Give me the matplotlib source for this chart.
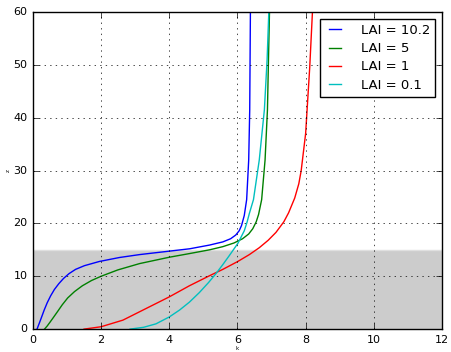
import matplotlib
matplotlib.use("Agg")
import matplotlib.pyplot as plt

# k(z) profiles for four leaf area indices
z_lai_10_2 = [0, 1.0, 2.2, 3.6, 5.0, 6.3, 7.5, 8.6, 9.6, 10.5, 11.3, 12.0, 12.8, 13.55,
              14.1, 14.75, 15.2, 15.9, 16.5, 17.1, 17.8, 18.6, 19.6, 21.5, 24.5, 32, 41.5, 60]
k_lai_10_2 = [0.12, 0.18, 0.25, 0.33, 0.42, 0.52, 0.63, 0.76, 0.90, 1.06, 1.25, 1.51, 1.95, 2.54,
              3.13, 4.0, 4.6, 5.18, 5.57, 5.80, 5.95, 6.05, 6.12, 6.20, 6.27, 6.33, 6.36, 6.38]

z_lai_5 = [0, 0.6, 1.3, 2.2, 3.3, 4.6, 5.9, 7.1, 8.2, 9.2, 10.0, 11.2, 12.4, 13.6, 14.3,
           15.0, 15.6, 16.3, 17.1, 18.0, 19.0, 20.3, 21.7, 24.5, 32, 41.5, 51, 60]
k_lai_5 = [0.34, 0.42, 0.50, 0.60, 0.72, 0.86, 1.02, 1.22, 1.45, 1.72, 2.0, 2.49, 3.13, 4.0, 4.6,
           5.18, 5.57, 5.90, 6.15, 6.33, 6.45, 6.55, 6.62, 6.71, 6.81, 6.88, 6.91, 6.94]

z_lai_1 = [0, 0.45, 1.7, 3.9, 6.1, 8.2, 10.1, 11.3, 12.8, 14.1, 15.4, 16.8, 18.3, 20.3,
           22.0, 24.8, 27.5, 30, 37, 49.5, 60]
k_lai_1 = [1.5, 2.0, 2.64, 3.32, 4.0, 4.59, 5.18, 5.57, 6.01, 6.35, 6.64, 6.90, 7.13, 7.36,
           7.50, 7.68, 7.80, 7.87, 8.0, 8.12, 8.20]

z_lai_0_1 = [0, 0.35, 1.0, 2.3, 3.6, 5.1, 6.9, 8.8, 10.5, 12.2, 13.9, 16.2, 18.6, 20.2,
             21.9, 24.5, 32, 41.5, 51, 60]
k_lai_0_1 = [2.85, 3.25, 3.61, 4.0, 4.30, 4.59, 4.88, 5.15, 5.37, 5.57, 5.76, 6.01, 6.20, 6.28,
             6.35, 6.47, 6.64, 6.79, 6.87, 6.92]

canopy_top = 15

plt.style.use("classic")
fig = plt.figure(figsize=(4.51, 3.52), dpi=100)
ax = fig.add_axes([0.073, 0.065, 0.907, 0.901])

# canopy layer
ax.axhspan(0, canopy_top, facecolor="0.8", edgecolor="0.88", linewidth=1)

ax.plot(k_lai_10_2, z_lai_10_2, "b-", label="LAI = 10.2")
ax.plot(k_lai_5, z_lai_5, "g-", label="LAI = 5")
ax.plot(k_lai_1, z_lai_1, "r-", label="LAI = 1")
ax.plot(k_lai_0_1, z_lai_0_1, "c-", label="LAI = 0.1")

ax.set_xlim(0, 12)
ax.set_ylim(0, 60)
ax.grid(True)
ax.tick_params(labelsize=8)
ax.set_xlabel("k", fontsize=4, labelpad=1)
ax.set_ylabel("z", fontsize=4, labelpad=2)

ax.legend(loc="upper right", fontsize=9.5, handlelength=1.5,
          labelspacing=0.4, borderpad=0.4, handletextpad=1.2,
          borderaxespad=0.5)

plt.savefig("out.png", dpi=100)
